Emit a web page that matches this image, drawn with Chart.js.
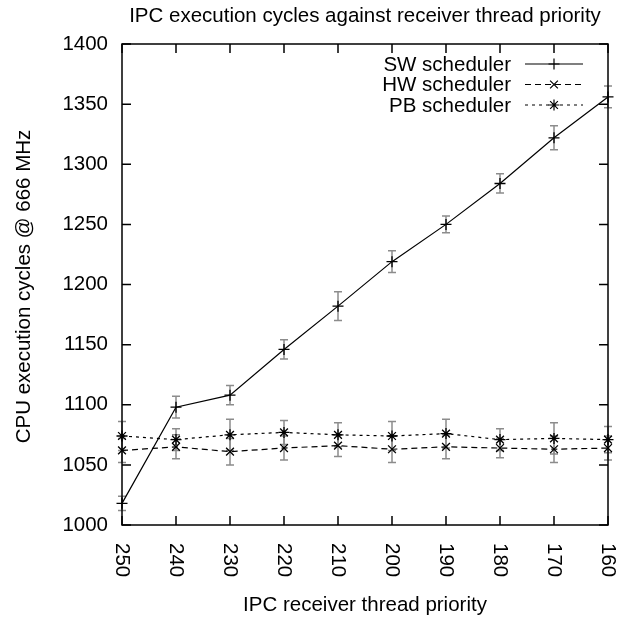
<!DOCTYPE html>
<html lang="en">
<head>
  <meta charset="UTF-8">
  <title>IPC execution cycles</title>
  <script src="https://cdn.jsdelivr.net/npm/chart.js"></script>
  <style>
    body {
      margin: 0;
      background: #fff;
    }
    #wrap {
      width: 638px;
      height: 619px;
    }
  </style>
</head>
<body>
  <div id="wrap"><canvas id="ipcChart"></canvas></div>

  <script>
    // thread priorities (x axis) and measured cycles per scheduler
    const priorities = ['250', '240', '230', '220', '210', '200', '190', '180', '170', '160'];
    const swCycles = [1018, 1098, 1108, 1146, 1182, 1219, 1250, 1284, 1322, 1356];
    const swErr    = [6, 9, 8, 8, 12, 9, 7, 8, 10, 9];
    const hwCycles = [1062, 1065, 1061, 1064, 1066, 1063, 1065, 1064, 1063, 1064];
    const hwErr    = [10, 10, 11, 10, 9, 11, 10, 8, 11, 10];
    const pbCycles = [1074, 1071, 1075, 1077, 1075, 1074, 1076, 1071, 1072, 1071];
    const pbErr    = [12, 9, 13, 10, 10, 12, 12, 9, 13, 11];
    const yTicks = [1000, 1050, 1100, 1150, 1200, 1250, 1300, 1350, 1400];

    const FAMILY = '"Liberation Sans", Arial, sans-serif';
    const SIZE = 20.5;
    const FONT = SIZE + 'px ' + FAMILY;

    // gnuplot look: grey error bars, inward ticks, frame, rotated labels, own legend
    const gnuplotStyle = {
      id: 'gnuplotStyle',
      beforeDatasetsDraw(chart) {
        const ctx = chart.ctx;
        const x = chart.scales.x, y = chart.scales.y;
        const errs = [swErr, hwErr, pbErr];
        ctx.save();
        ctx.strokeStyle = '#8c8c8c';
        ctx.lineWidth = 1.5;
        chart.data.datasets.forEach((ds, di) => {
          ds.data.forEach((v, i) => {
            const px = x.getPixelForValue(i);
            const top = y.getPixelForValue(v + errs[di][i]);
            const bot = y.getPixelForValue(v - errs[di][i]);
            ctx.beginPath();
            ctx.moveTo(px, top); ctx.lineTo(px, bot);
            ctx.moveTo(px - 4, top); ctx.lineTo(px + 4, top);
            ctx.moveTo(px - 4, bot); ctx.lineTo(px + 4, bot);
            ctx.stroke();
          });
        });
        ctx.restore();
      },
      afterDraw(chart) {
        const ctx = chart.ctx;
        const a = chart.chartArea;
        const x = chart.scales.x, y = chart.scales.y;
        ctx.save();
        ctx.strokeStyle = '#000';
        ctx.lineWidth = 1.5;
        ctx.strokeRect(a.left, a.top, a.right - a.left, a.bottom - a.top);

        // inward ticks on all four sides
        ctx.beginPath();
        priorities.forEach((p, i) => {
          const px = x.getPixelForValue(i);
          ctx.moveTo(px, a.bottom); ctx.lineTo(px, a.bottom - 9);
          ctx.moveTo(px, a.top); ctx.lineTo(px, a.top + 9);
        });
        yTicks.forEach(t => {
          const py = y.getPixelForValue(t);
          ctx.moveTo(a.left, py); ctx.lineTo(a.left + 9, py);
          ctx.moveTo(a.right, py); ctx.lineTo(a.right - 9, py);
        });
        ctx.stroke();

        ctx.fillStyle = '#000';
        ctx.font = FONT;

        // x tick labels, turned clockwise
        ctx.textAlign = 'left';
        ctx.textBaseline = 'middle';
        priorities.forEach((p, i) => {
          ctx.save();
          ctx.translate(x.getPixelForValue(i), a.bottom + 18);
          ctx.rotate(Math.PI / 2);
          ctx.fillText(p, 0, 0);
          ctx.restore();
        });

        // titles
        const midX = (a.left + a.right) / 2;
        ctx.textAlign = 'center';
        ctx.textBaseline = 'alphabetic';
        ctx.fillText('IPC execution cycles against receiver thread priority', midX, 22);
        ctx.fillText('IPC receiver thread priority', midX, 611);
        ctx.save();
        ctx.translate(30, (a.top + a.bottom) / 2 + 2);
        ctx.rotate(-Math.PI / 2);
        ctx.fillText('CPU execution cycles @ 666 MHz', 0, 0);
        ctx.restore();

        // legend, top right inside the frame
        chart.data.datasets.forEach((ds, i) => {
          const ly = 64 + i * 20.5;
          ctx.textAlign = 'right';
          ctx.textBaseline = 'middle';
          ctx.fillStyle = '#000';
          ctx.fillText(ds.label, 511, ly + 1);
          ctx.save();
          ctx.strokeStyle = '#000';
          ctx.lineWidth = 1.2;
          ctx.setLineDash(ds.borderDash || []);
          ctx.beginPath();
          ctx.moveTo(525, ly); ctx.lineTo(583, ly);
          ctx.stroke();
          ctx.setLineDash([]);
          Chart.helpers.drawPoint(ctx, {
            pointStyle: ds.pointStyle,
            radius: ds.pointRadius,
            borderWidth: ds.pointBorderWidth,
            rotation: 0
          }, 554, ly);
          ctx.restore();
        });
        ctx.restore();
      }
    };

    const common = {
      borderColor: '#000',
      backgroundColor: '#000',
      pointBorderColor: '#000',
      borderWidth: 1.2,
      pointBorderWidth: 1.3,
      pointRadius: 5.5,
      tension: 0,
      fill: false,
      clip: false
    };

    new Chart(document.getElementById('ipcChart'), {
      type: 'line',
      data: {
        labels: priorities,
        datasets: [
          Object.assign({ label: 'SW scheduler', data: swCycles, pointStyle: 'cross' }, common),
          Object.assign({ label: 'HW scheduler', data: hwCycles, pointStyle: 'crossRot', borderDash: [6, 4] }, common),
          Object.assign({ label: 'PB scheduler', data: pbCycles, pointStyle: 'star', borderDash: [3, 4] }, common)
        ]
      },
      plugins: [gnuplotStyle],
      options: {
        responsive: true,
        maintainAspectRatio: false,
        animation: false,
        layout: { padding: { top: 44, right: 30, left: 0, bottom: 0 } },
        plugins: {
          legend: { display: false },
          title: { display: false },
          tooltip: { enabled: false }
        },
        scales: {
          x: {
            offset: false,
            grid: { display: false, drawTicks: false },
            border: { display: false },
            ticks: { display: false },
            afterFit: s => { s.height = 94; }
          },
          y: {
            min: 1000,
            max: 1400,
            afterBuildTicks: s => { s.ticks = yTicks.map(v => ({ value: v })); },
            grid: { display: false, drawTicks: false },
            border: { display: false },
            ticks: {
              color: '#000',
              padding: 14,
              font: { family: FAMILY, size: SIZE },
              callback: v => String(v)
            },
            afterFit: s => { s.width = 122; }
          }
        }
      }
    });
  </script>
</body>
</html>
